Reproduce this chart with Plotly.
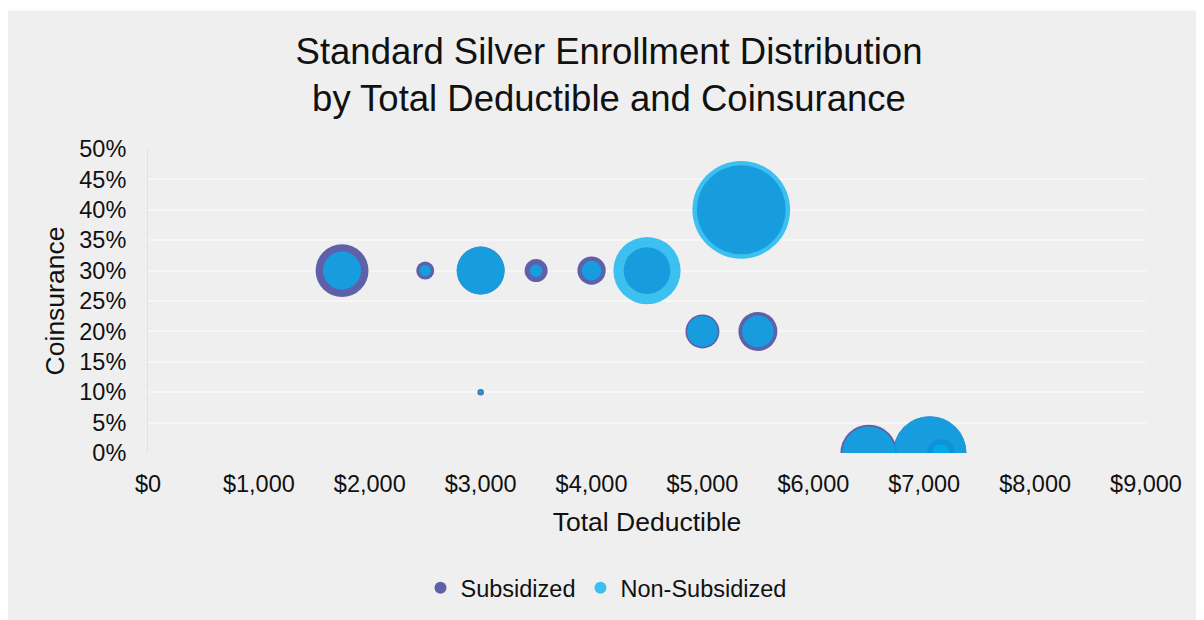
import plotly.graph_objects as go

# ---- data ----
# Subsidized bubbles
sub_deductible = [1750, 2500, 3000, 3000, 3500, 4000, 4500, 5000, 5350, 5500, 6500, 7050, 7150]
sub_coins      = [0.30, 0.30, 0.30, 0.10, 0.30, 0.30, 0.30, 0.20, 0.40, 0.20, 0.00, 0.00, 0.00]
sub_enroll     = [14000, 1620, 11500, 210, 2650, 4000, 10900, 5780, 39600, 7600, 16100, 26900, 3920]

# Non-Subsidized bubbles
non_deductible = [1750, 2500, 3000, 3000, 3500, 4000, 4500, 5000, 5350, 5500, 6500, 7050, 7150]
non_coins      = [0.30, 0.30, 0.30, 0.10, 0.30, 0.30, 0.30, 0.20, 0.40, 0.20, 0.00, 0.00, 0.00]
non_enroll     = [7220, 640, 11500, 100, 800, 1940, 22600, 4710, 47700, 5000, 14000, 26900, 1445]

series_names = ["Subsidized", "Non-Subsidized"]
title_lines = ["Standard Silver Enrollment Distribution", "by Total Deductible and Coinsurance"]

SIZEREF = 10
OFF = 8  # page body margin
L, R, T, B = 140, 58, 141, 166
W, H = 1196, 612
PW, PH = W - L - R, H - T - B

font_family = "Arial, Liberation Sans, sans-serif"

fig = go.Figure()
fig.add_trace(go.Scatter(
    x=sub_deductible, y=sub_coins, mode="markers", name=series_names[0],
    marker=dict(size=sub_enroll, sizemode="area", sizeref=SIZEREF,
                color="rgb(46,49,146)", opacity=0.75, line=dict(width=0)),
))
fig.add_trace(go.Scatter(
    x=non_deductible, y=non_coins, mode="markers", name=series_names[1],
    marker=dict(size=non_enroll, sizemode="area", sizeref=SIZEREF,
                color="rgb(0,176,240)", opacity=0.75, line=dict(width=0)),
))

# page pixel -> paper coords
def px_to_paper_x(px):
    return (px - OFF - L) / PW

def py_to_paper_y(py):
    return (H - B - (py - OFF)) / PH

# white strip along the top of the original image
fig.add_shape(type="rect", xref="paper", yref="paper", layer="below",
              x0=px_to_paper_x(-20), x1=px_to_paper_x(1300),
              y0=py_to_paper_y(10), y1=py_to_paper_y(-20),
              fillcolor="white", line=dict(width=0))

fig.update_layout(
    width=W, height=H,
    margin=dict(l=L, r=R, t=T, b=B, pad=0),
    paper_bgcolor="#efefef", plot_bgcolor="#efefef",
    font=dict(family=font_family, color="#111111", size=23.5),
    title=dict(text="<br>".join(title_lines), x=(609 - OFF) / W, xanchor="center",
               y=1 - 56 / H, yanchor="top", yref="container",
               font=dict(size=36.5, color="#111111", family=font_family)),
    showlegend=True,
    legend=dict(orientation="h", x=px_to_paper_x(606), xanchor="center",
                y=py_to_paper_y(588), yanchor="middle",
                font=dict(size=23.5), itemsizing="constant", bgcolor="rgba(0,0,0,0)"),
    xaxis=dict(range=[0, 9000], dtick=1000, tick0=0, tickprefix="$", tickformat=",d",
               showgrid=False, zeroline=False, showline=False,
               ticks="outside", ticklen=10, tickcolor="rgba(0,0,0,0)",
               tickfont=dict(size=23.5),
               title=dict(text="Total Deductible", font=dict(size=26.5), standoff=16)),
    yaxis=dict(range=[0, 0.5], dtick=0.05, tick0=0, tickformat=".0%",
               showgrid=True, gridcolor="#f6f6f6", gridwidth=1.5,
               zeroline=False, showline=True, linecolor="#e2e2e2", linewidth=1,
               ticks="outside", ticklen=16, tickcolor="rgba(0,0,0,0)",
               tickfont=dict(size=23.5),
               title=dict(text="Coinsurance", font=dict(size=26.5), standoff=6)),
)

fig.write_html("out.html")
